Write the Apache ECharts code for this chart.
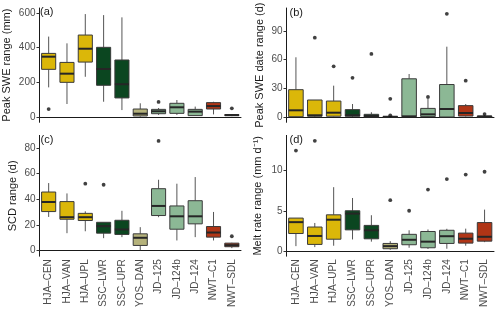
<!DOCTYPE html>
<html><head><meta charset="utf-8">
<script src="https://cdn.jsdelivr.net/npm/echarts@6/dist/echarts.min.js"></script>
<style>html,body{margin:0;padding:0;background:#fff}#c{width:500px;height:310px}</style>
</head><body><div id="c"></div>
<script>
// ---- data ----
const categories = ['HJA–CEN','HJA–VAN','HJA–UPL','SSC–LWR','SSC–UPR','YOS–DAN','JD–125','JD–124b','JD–124','NWT–C1','NWT–SDL'];

// [lower whisker, Q1, median, Q3, upper whisker] per category
const sweStats = [
  [171,275,348,367,464],[75,200,250,315,425],[232,317,394,473,594],[88,183,277,402,588],[40,110,189,329,575],
  [2,6,19,46,79],[12,19,33,44,52],[12,21,56,79,98],[7,8,31,44,60],[15,46,63,83,88],[5,8,11,14,16]
];
const sweOutliers = [[46],[],[],[],[],[],[87],[],[],[],[50]];

const dateStats = [
  [0,0.3,7,28.6,62.5],[0,0.8,1.8,17.8,17.8],[0.5,0.8,4.5,16.7,32.8],[0,0.8,1.8,7.7,13.6],[0,0,1,2.8,5],
  [0,0,0.2,0.6,0.9],[0,0.3,0.7,40,45],[0,0.4,2.8,9,19.5],[0,0,8.4,34,73.6],[0.5,1,4.2,11.9,13.6],[0,0,0.5,1,1.5]
];
const dateOutliers = [[],[83],[53],[41],[66],[19,1.8],[],[21],[108],[38],[3.1]];

const scdStats = [
  [26.2,30.4,37.9,45.7,52.7],[13.5,24.4,26,38.2,44.6],[15,23.4,26,29,30.6],[9.6,13.5,19,22,22],[10.4,12.5,16.4,23.6,31],
  [0.2,3.9,9.9,13,18.2],[26,27.3,34.8,48.3,55.3],[7.8,16.6,26.7,34.8,52.2],[10.4,20.8,26.7,38.9,57.4],[7.8,10.4,14,18.7,30.1],[1.8,2.9,4.1,5.7,6]
];
const scdOutliers = [[],[],[52.2],[51.4],[],[],[85.7],[],[],[],[11.1]];

const meltStats = [
  [0.65,2.2,3.6,4.1,4.1],[0.53,0.86,1.9,3.0,3.5],[0.7,1.5,3.9,4.5,7.9],[1.47,2.65,4.65,5.0,6.57],[1.2,1.55,2.6,3.2,4.45],
  [0.2,0.33,0.65,0.98,1.26],[0.45,0.82,1.43,2.1,2.6],[0.3,0.45,1.2,2.45,2.7],[0.33,0.98,1.87,2.6,2.78],[0.7,1.02,1.56,2.25,2.8],[1.14,1.26,1.8,3.55,5.14]
];
const meltOutliers = [[12.4],[13.6],[],[],[],[6.3],[5.0],[7.6],[8.9],[9.45],[9.8]];

const sweTicks = [0,200,400,600];
const dateTicks = [0,30,60,90];
const scdTicks = [0,20,40,60,80];
const meltTicks = [0,5,10];

const panelTags = ['(a)','(b)','(c)','(d)'];
const yTitles = ['Peak SWE range (mm)','Peak SWE date range (d)','SCD range (d)','Melt rate range (mm d⁻¹)'];

// ---- styles ----
const YEL = '#dbb709', DKG = '#0b4620', KHA = '#b5b27b', LTG = '#8cb895', RED = '#b03516';
const catColors = [YEL,YEL,YEL,DKG,DKG,KHA,LTG,LTG,LTG,RED,RED];

const chart = echarts.init(document.getElementById('c'), null, {renderer:'canvas'});

function boxData(stats){ return stats.map((s,i)=>[i].concat(s)); }
function outData(outs){ const r=[]; outs.forEach((o,i)=>o.forEach(v=>r.push([i,v]))); return r; }

function renderBox(params, api){
  const i = api.value(0);
  const px = api.coord([i, api.value(1)]);
  const x = px[0];
  const yLow = px[1];
  const yQ1 = api.coord([i, api.value(2)])[1];
  const yMed = api.coord([i, api.value(3)])[1];
  const yQ3 = api.coord([i, api.value(4)])[1];
  const yHigh = api.coord([i, api.value(5)])[1];
  const bw = api.size([1,0])[0]*0.77;
  const col = catColors[i];
  return {type:'group', children:[
    {type:'line', shape:{x1:x,y1:yLow,x2:x,y2:yQ1}, style:{stroke:'#555', lineWidth:1}},
    {type:'line', shape:{x1:x,y1:yQ3,x2:x,y2:yHigh}, style:{stroke:'#555', lineWidth:1}},
    {type:'rect', shape:{x:x-bw/2,y:yQ3,width:bw,height:Math.max(yQ1-yQ3,0.5)}, style:{fill:col, stroke:'#3a3a3a', lineWidth:1}},
    {type:'line', shape:{x1:x-bw/2,y1:yMed,x2:x+bw/2,y2:yMed}, style:{stroke:'#262626', lineWidth:2}}
  ]};
}

const grids = [
  {left:39.5, top:8, width:201.5, height:114.3},
  {left:286.5, top:8, width:207.5, height:114.3},
  {left:39.5, top:135.4, width:201.5, height:121.4},
  {left:286.5, top:135.4, width:207.5, height:121.4}
];
const yRanges = [[-30.6,629],[-5.55,114.1],[-4.52,90],[-0.59,14.27]];
const yTickSets = [sweTicks, dateTicks, scdTicks, meltTicks];
const nameGaps = [27,21,21,23];
const statsSets = [sweStats, dateStats, scdStats, meltStats];
const outSets = [sweOutliers, dateOutliers, scdOutliers, meltOutliers];

const xAxis = grids.map((g,k)=>({
  type:'category', gridIndex:k, data:categories,
  axisLine:{lineStyle:{color:'#1a1a1a', width:1}},
  axisTick:{alignWithLabel:true, length:3, lineStyle:{color:'#333'}},
  axisLabel:{show:k>=2, rotate:90, interval:0, fontSize:10, color:'#4d4d4d', margin:3, fontFamily:'Liberation Sans'},
  splitLine:{show:false}
}));
const yAxis = grids.map((g,k)=>({
  type:'value', gridIndex:k, min:yRanges[k][0], max:yRanges[k][1],
  name:yTitles[k], nameLocation:'middle', nameGap:nameGaps[k],
  nameTextStyle:{fontSize:11, color:'#1a1a1a', fontFamily:'Liberation Sans'},
  axisLine:{show:true, lineStyle:{color:'#1a1a1a', width:1}},
  axisTick:{show:true, length:3, customValues:yTickSets[k], lineStyle:{color:'#333'}},
  axisLabel:{customValues:yTickSets[k], fontSize:10, color:'#4d4d4d', margin:4, fontFamily:'Liberation Sans'},
  splitLine:{show:false}
}));

const series = [];
statsSets.forEach((st,k)=>{
  series.push({type:'custom', xAxisIndex:k, yAxisIndex:k, renderItem:renderBox,
    encode:{x:0, y:[1,2,3,4,5]}, data:boxData(st), silent:true, clip:false});
  series.push({type:'scatter', xAxisIndex:k, yAxisIndex:k, data:outData(outSets[k]),
    symbolSize:3.8, itemStyle:{color:'#111'}, silent:true});
});

const tagPos = [[40,6.5],[289.5,7.5],[40.5,134],[289.5,134]];
const title = panelTags.map((t,k)=>({text:t, left:tagPos[k][0], top:tagPos[k][1], padding:0,
  textStyle:{fontSize:11, fontWeight:'normal', color:'#1a1a1a', fontFamily:'Liberation Sans'}}));

chart.setOption({animation:false, backgroundColor:'#fff', title, grid:grids, xAxis, yAxis, series});
</script></body></html>
